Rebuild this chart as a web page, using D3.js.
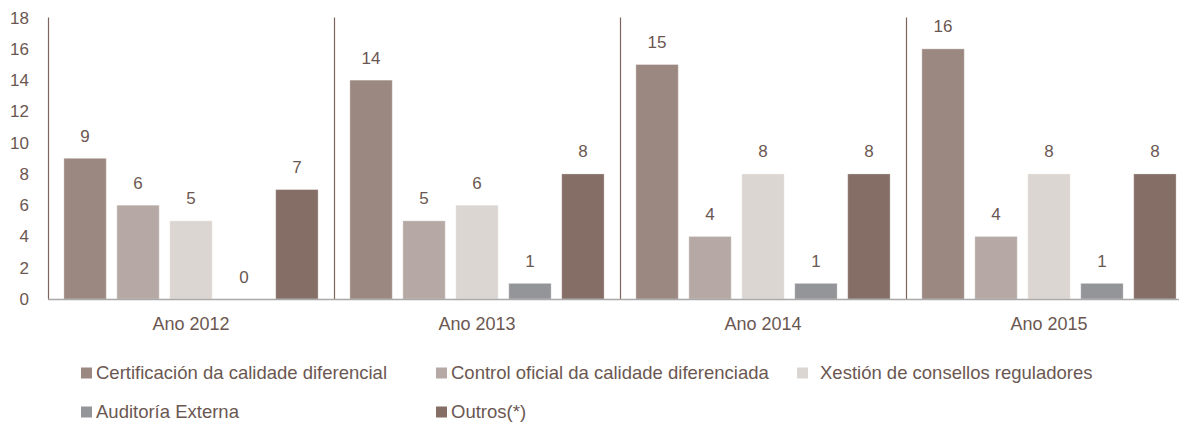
<!DOCTYPE html>
<html>
<head>
<meta charset="utf-8">
<script src="https://cdn.jsdelivr.net/npm/d3@7"></script>
<style>
  html, body { margin: 0; padding: 0; background: #fff; }
  svg { display: block; font-family: "Liberation Sans", Arial, Helvetica, sans-serif; }
</style>
</head>
<body>
<svg id="chart" width="1179" height="422"></svg>
<script>
// Years shown as groups along the x axis
const years = ["Ano 2012", "Ano 2013", "Ano 2014", "Ano 2015"];

// Series names (legend order)
const seriesNames = [
  "Certificación da calidade diferencial",
  "Control oficial da calidade diferenciada",
  "Xestión de consellos reguladores",
  "Auditoría Externa",
  "Outros(*)"
];

// Values per series, one per year
const certificacion = [9, 14, 15, 16];
const controlOficial = [6, 5, 4, 4];
const xestion = [5, 6, 8, 8];
const auditoria = [0, 1, 1, 1];
const outros = [7, 8, 8, 8];

const yTicks = [0, 2, 4, 6, 8, 10, 12, 14, 16, 18];

const seriesValues = [certificacion, controlOficial, xestion, auditoria, outros];
const colors = ["#9b8881", "#b6a9a5", "#dbd6d2", "#949598", "#846e66"];
const textColor = "#6b5751";

const svg = d3.select("#chart");

const left = 48, groupWidth = 286;
const x0 = d3.scaleBand().domain(years).range([left, left + groupWidth * years.length]).padding(0);
const x1 = d3.scaleBand().domain(d3.range(seriesNames.length))
  .range([0, x0.bandwidth()]).paddingInner(0.2).paddingOuter(0.3);
const y = d3.scaleLinear().domain([0, 18]).range([299, 17.6]);

// Bars
const groups = svg.append("g").selectAll("g")
  .data(years).join("g")
  .attr("transform", d => `translate(${x0(d)},0)`);

groups.selectAll("rect")
  .data((d, i) => seriesValues.map((vals, s) => ({ s, v: vals[i] })))
  .join("rect")
  .attr("x", d => x1(d.s))
  .attr("width", x1.bandwidth())
  .attr("y", d => y(d.v))
  .attr("height", d => y(0) - y(d.v))
  .attr("fill", d => colors[d.s])
  .attr("stroke", "#ffffff")
  .attr("stroke-opacity", 0.3)
  .attr("stroke-width", 1);

// Value labels
groups.selectAll("text.val")
  .data((d, i) => seriesValues.map((vals, s) => ({ s, v: vals[i] })))
  .join("text")
  .attr("class", "val")
  .attr("x", d => x1(d.s) + x1.bandwidth() / 2)
  .attr("y", d => y(d.v) - 16.5)
  .attr("text-anchor", "middle")
  .attr("font-size", 17)
  .attr("fill", textColor)
  .text(d => d.v);

// Group separators and y axis line
svg.append("g").selectAll("line")
  .data(years).join("line")
  .attr("x1", d => Math.round(x0(d)) + 0.5)
  .attr("x2", d => Math.round(x0(d)) + 0.5)
  .attr("y1", y(18))
  .attr("y2", y(0))
  .attr("stroke", "#7d655d")
  .attr("stroke-width", 1.2);

// X baseline
svg.append("line")
  .attr("x1", left).attr("x2", 1179)
  .attr("y1", y(0) + 0.5).attr("y2", y(0) + 0.5)
  .attr("stroke", "#a9a9a9")
  .attr("stroke-width", 1.5);

// Y axis tick labels
const yAxis = d3.axisLeft(y).tickValues(yTicks).tickSize(0).tickPadding(0);
const yg = svg.append("g").attr("transform", "translate(29,0)").call(yAxis);
yg.select(".domain").remove();
yg.selectAll("text")
  .attr("font-size", 17)
  .attr("font-family", "Liberation Sans, Arial, sans-serif")
  .attr("fill", textColor);

// X axis category labels
const xAxis = d3.axisBottom(x0).tickSize(0).tickPadding(0);
const xg = svg.append("g").attr("transform", `translate(0,${y(0) + 18})`).call(xAxis);
xg.select(".domain").remove();
xg.selectAll("text")
  .attr("font-size", 18)
  .attr("font-family", "Liberation Sans, Arial, sans-serif")
  .attr("fill", textColor);

// Legend
const legendPos = [
  [81, 373], [436, 373], [797, 373],
  [81, 412], [436, 412]
];
const textOffset = [15, 15, 23, 15, 15];
const legend = svg.append("g").selectAll("g")
  .data(seriesNames).join("g")
  .attr("transform", (d, i) => `translate(${legendPos[i][0]},${legendPos[i][1]})`);
legend.append("rect")
  .attr("x", 0).attr("y", -5.5)
  .attr("width", 11).attr("height", 11)
  .attr("fill", (d, i) => colors[i]);
legend.append("text")
  .attr("x", (d, i) => textOffset[i])
  .attr("y", 0)
  .attr("dy", "0.35em")
  .attr("font-size", 18.5)
  .attr("fill", textColor)
  .text(d => d);
</script>
</body>
</html>
